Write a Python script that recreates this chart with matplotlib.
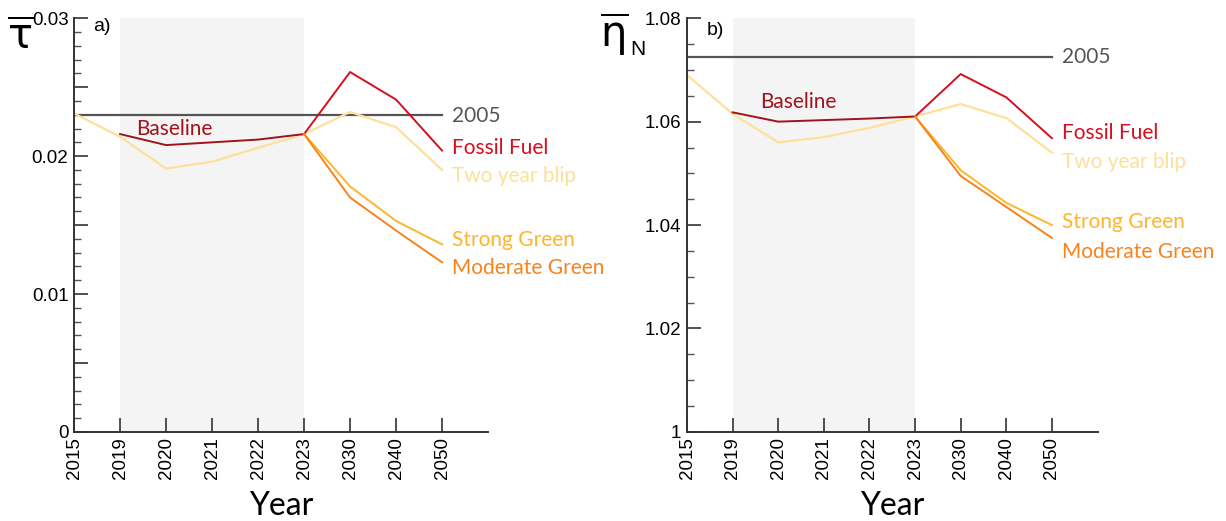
import numpy as np
import matplotlib
matplotlib.use("Agg")
import matplotlib.pyplot as plt
from matplotlib.ticker import MultipleLocator, FixedLocator

years = ["2015", "2019", "2020", "2021", "2022", "2023", "2030", "2040", "2050"]

# panel a) tau bar
tau_2005 = 0.0230
tau_baseline = [0.0216, 0.0208, 0.0210, 0.0212, 0.0216]          # 2019..2023
tau_blip = [0.0231, 0.0214, 0.0191, 0.0196, 0.0206, 0.0216, 0.0232, 0.0221, 0.0190]
tau_fossil = [0.0216, 0.0261, 0.0241, 0.0204]                     # 2023..2050
tau_strong = [0.0216, 0.0178, 0.0153, 0.0136]
tau_moderate = [0.0216, 0.0170, 0.0146, 0.0123]

# panel b) eta_N bar
eta_2005 = 1.0725
eta_baseline = [1.0618, 1.0600, 1.0603, 1.0606, 1.0610]
eta_blip = [1.0690, 1.0615, 1.0560, 1.0570, 1.0588, 1.0610, 1.0634, 1.0607, 1.0540]
eta_fossil = [1.0610, 1.0692, 1.0647, 1.0568]
eta_strong = [1.0610, 1.0506, 1.0443, 1.0400]
eta_moderate = [1.0610, 1.0495, 1.0435, 1.0375]

c_base = "#a1121b"
c_fossil = "#d40f1f"
c_blip = "#fde09a"
c_strong = "#fdb52a"
c_mod = "#f8831c"
c_2005 = "#555555"
lab_font = "Lato"

x = np.arange(len(years))
xb = x[1:6]
xf = x[5:]

fig = plt.figure(figsize=(12.26, 5.21), dpi=100)
ax1 = fig.add_axes([0.0604, 0.171, 0.3377, 0.794])
ax2 = fig.add_axes([0.5604, 0.171, 0.3348, 0.794])


def panel(ax, h2005, base, blip, fossil, strong, mod, ylim, major, minor, labels, tlabels, y2005):
    ax.axvspan(1, 5, color="#f4f4f4", zorder=0, lw=0)
    ax.axhline(h2005, xmin=0, xmax=8.0 / 9.0, color=c_2005, lw=1.6, zorder=1)
    ax.plot(x, blip, color=c_blip, lw=1.6, zorder=2)
    ax.plot(xb, base, color=c_base, lw=1.4, zorder=3)
    ax.plot(xf, fossil, color=c_fossil, lw=1.4, zorder=3)
    ax.plot(xf, strong, color=c_strong, lw=1.4, zorder=3)
    ax.plot(xf, mod, color=c_mod, lw=1.4, zorder=3)
    ax.set_xlim(0, 9.0)
    ax.set_ylim(*ylim)
    ax.set_xticks(x)
    ax.set_xticklabels(years, rotation=90, fontsize=13.5, family="Liberation Sans")
    ax.yaxis.set_major_locator(FixedLocator(major))
    ax.yaxis.set_minor_locator(MultipleLocator(minor))
    ax.set_yticklabels([tlabels.get(round(v, 4), "") for v in major],
                       fontsize=13.5, family="Liberation Sans")
    ax.tick_params(axis="both", which="major", direction="in", length=10, width=1.2,
                   color="#333333", pad=4)
    ax.tick_params(axis="y", which="minor", direction="in", length=5, width=1.0, color="#555555")
    for s in ["top", "right"]:
        ax.spines[s].set_visible(False)
    for s in ["left", "bottom"]:
        ax.spines[s].set_color("#333333")
        ax.spines[s].set_linewidth(1.4)
    ax.set_xlabel("Year", fontsize=23, family=lab_font, labelpad=8)
    ax.text(8.0 + 0.22, y2005, "2005", color=c_2005, fontsize=15, family=lab_font, va="center")
    for txt, yv, col in labels:
        ax.text(8.0 + 0.22, yv, txt, color=col, fontsize=15, family=lab_font, va="center")


panel(ax1, tau_2005, tau_baseline, tau_blip, tau_fossil, tau_strong, tau_moderate,
      (0, 0.03), np.arange(0, 0.0301, 0.005), 0.001,
      [("Fossil Fuel", 0.0206, c_fossil), ("Two year blip", 0.01855, c_blip),
       ("Strong Green", 0.0139, c_strong), ("Moderate Green", 0.0119, c_mod)],
      {0.0: "0", 0.01: "0.01", 0.02: "0.02", 0.03: "0.03"}, 0.0229)
ax1.text(1.35, 0.0220, "Baseline", color=c_base, fontsize=15, family=lab_font, va="center")
ax1.text(0.42, 0.0294, "a)", fontsize=14, family="Liberation Sans", va="center")
fig.text(0.006, 0.93, r"$\overline{\mathrm{\tau}}$", fontsize=30, va="center")

panel(ax2, eta_2005, eta_baseline, eta_blip, eta_fossil, eta_strong, eta_moderate,
      (1.0, 1.08), np.arange(1.0, 1.0801, 0.02), 0.005,
      [("Fossil Fuel", 1.0578, c_fossil), ("Two year blip", 1.0522, c_blip),
       ("Strong Green", 1.0406, c_strong), ("Moderate Green", 1.0348, c_mod)],
      {1.0: "1", 1.02: "1.02", 1.04: "1.04", 1.06: "1.06", 1.08: "1.08"}, 1.0725)
ax2.text(1.6, 1.0638, "Baseline", color=c_base, fontsize=15, family=lab_font, va="center")
ax2.text(0.42, 1.0777, "b)", fontsize=14, family="Liberation Sans", va="center")
fig.text(0.489, 0.935, r"$\overline{\mathrm{\eta}}$", fontsize=30, va="center")
fig.text(0.514, 0.905, "N", fontsize=15, family="Liberation Sans", va="center")

fig.savefig("out.png", dpi=100)
